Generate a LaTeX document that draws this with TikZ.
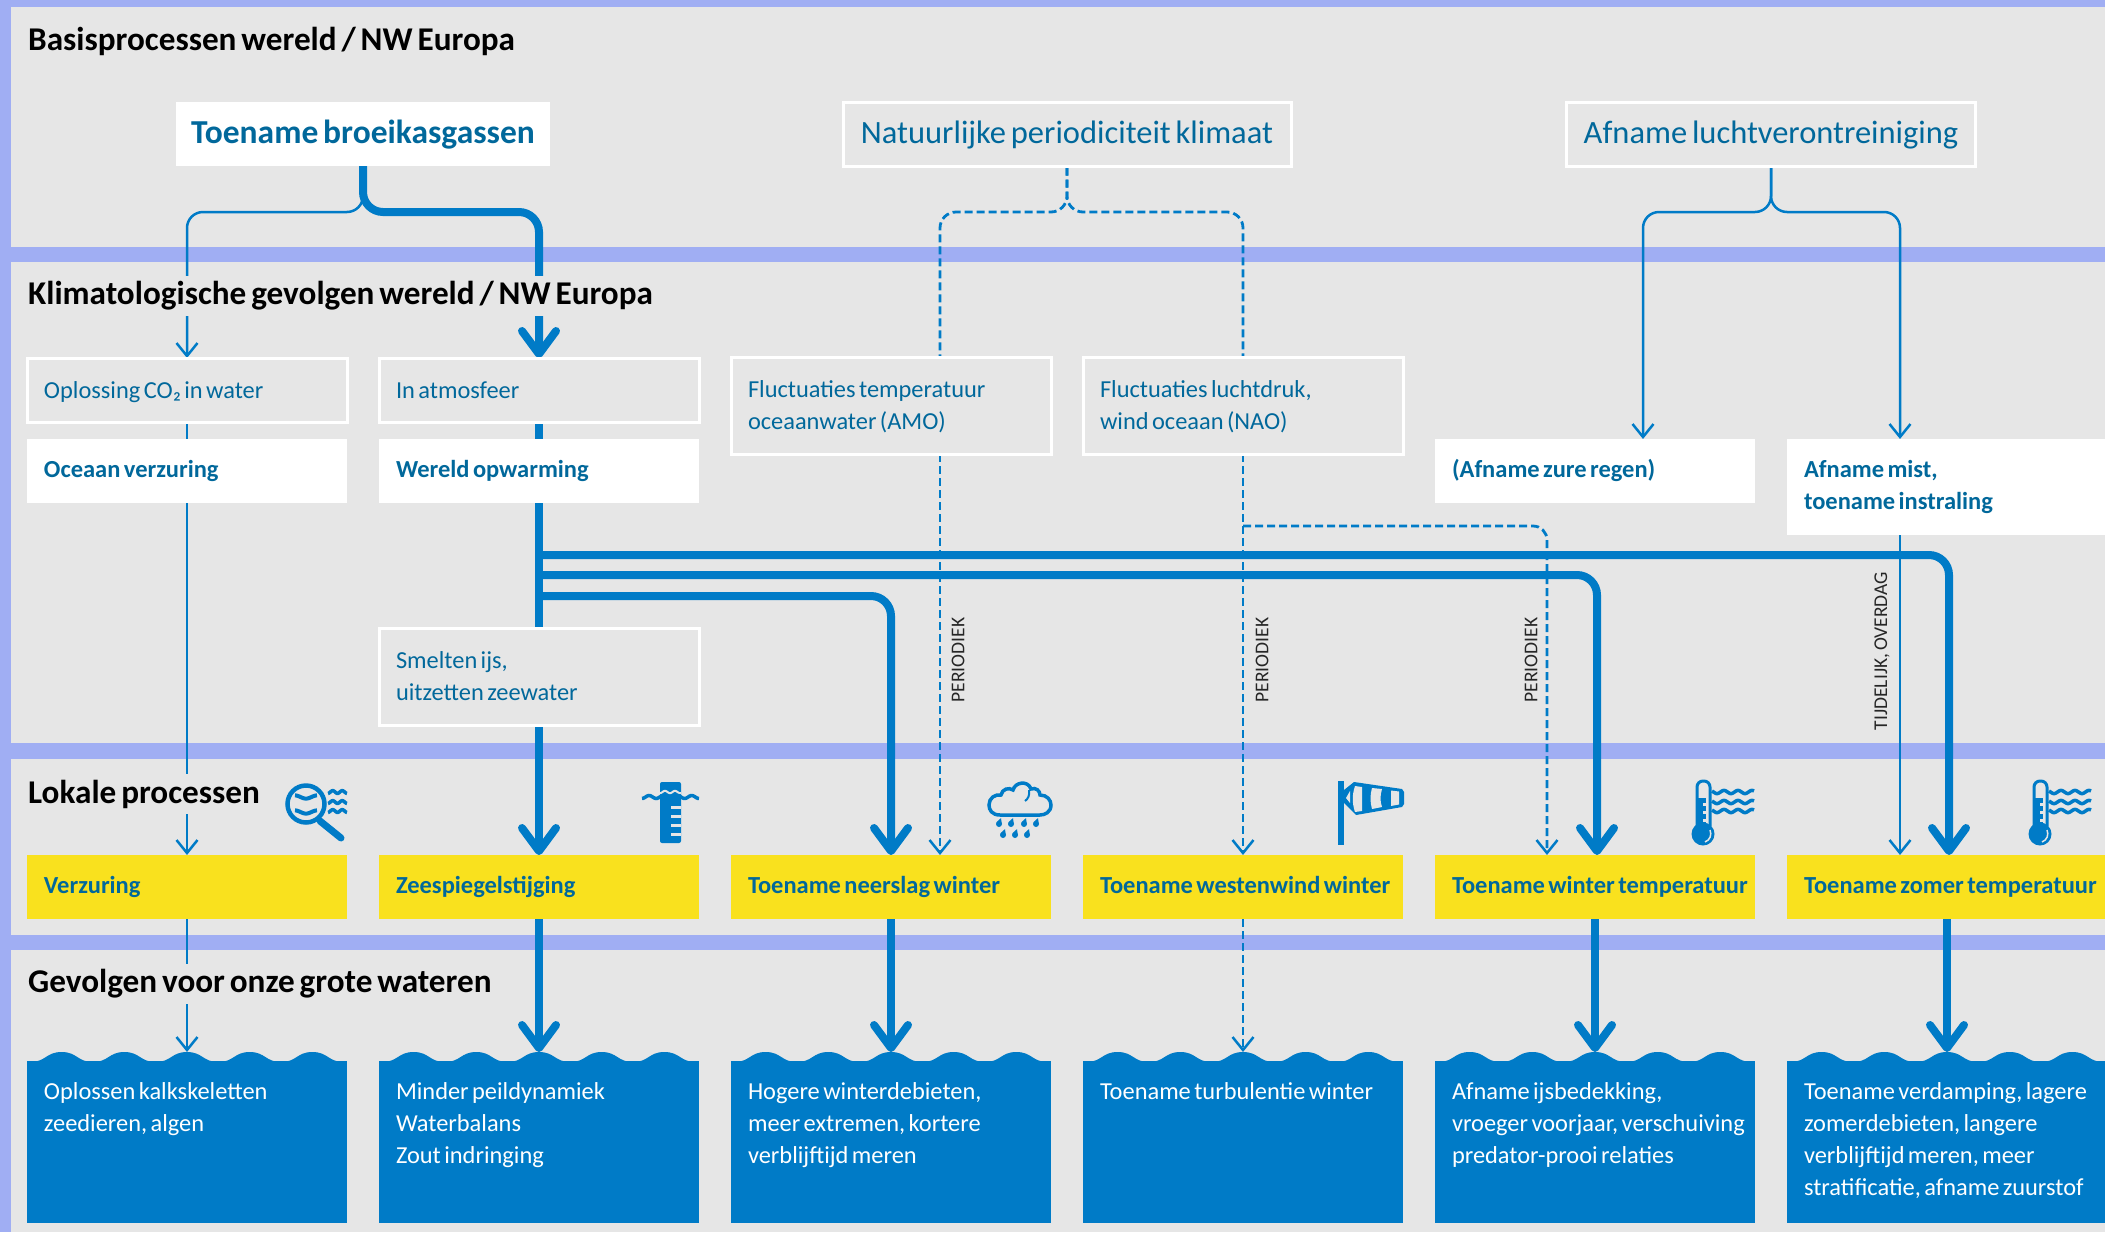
\documentclass[tikz,border=0pt]{standalone}
\usepackage{fontspec}
\setmainfont[WordSpace=0.65]{Carlito}
\usetikzlibrary{arrows.meta}
\usetikzlibrary{positioning}
\usetikzlibrary{calc}
\definecolor{achtergrond}{HTML}{E6E6E6}
\definecolor{band}{HTML}{A0AEF3}
\definecolor{hemel}{HTML}{007BC7}
\definecolor{lint}{HTML}{01689B}
\definecolor{geel}{HTML}{F9E11E}
\pgfdeclarelayer{vlakken}
\pgfdeclarelayer{lijnen}
\pgfsetlayers{vlakken,lijnen,main}
\tikzset{
    thermogolf/.pic = {
        \draw[line width=3pt, color=hemel, rounded corners=6pt] (-6,45) -- (-6,0) -- (7,0) -- (7,45);
        \fill[hemel] (-5,17) rectangle (3,45);
        \foreach \t in {22,30,38} \fill[achtergrond] (0,\t) rectangle (3,\t+2.5);
        \fill[hemel] (0,53) circle (11.5pt);
        \draw[achtergrond, line width=1.5pt] (7,49) .. controls (9,54) and (7,59) .. (2,61);
        \foreach \g in {11,21,30}
            \draw[golflijn] plot[domain=9:51, samples=40, smooth] ({\x}, {\g+1.6*cos(\x/14*360)});
    }
}
\newcommand{\onderkop}[1]{\fontsize{#1}{32}\selectfont}
\begin{document}
\begin{tikzpicture}[
        x = 1pt, y = -1pt,
        kop/.style = {inner sep=0pt, anchor=west, minimum height=40pt, fill=achtergrond, text=black,
                      font=\fontsize{33.2}{36}\selectfont\bfseries},
        hoofdwit/.style = {rectangle, fill=white, text=lint, inner sep=0pt, minimum height=64pt, text height=26pt, text depth=6.8pt,
                      font=\fontsize{33.5}{36}\selectfont\bfseries},
        hoofdrand/.style = {hoofdwit, fill=achtergrond, draw=white, line width=3pt, font=\fontsize{32.5}{36}\selectfont},
        vak/.style = {rectangle, text width=320pt, inner xsep=0pt, inner ysep=0pt, outer sep=0pt,
                      minimum height=64pt,
                      execute at begin node={\leftskip=17pt\rightskip=0pt plus 1fil\spaceskip=.14em\parindent=0pt\strut},
                      execute at end node={\strut}},
        randvak/.style = {vak, fill=achtergrond, draw=white, line width=3pt, text=lint, font=\onderkop{24.4},
                      execute at begin node={\rule{0pt}{26pt}}},
        witvak/.style = {vak, fill=white, text=lint, font=\onderkop{24.5}\bfseries},
        geelvak/.style = {vak, fill=geel, text=lint, font=\onderkop{24.5}\bfseries},
        watervak/.style = {rectangle, fill=hemel, text=white, text width=320pt, inner xsep=0pt, inner ysep=0pt,
                      outer sep=0pt, text height=38pt, text depth=124pt, font=\onderkop{24.4},
                      execute at begin node={\leftskip=17pt\rightskip=0pt plus 1fil\spaceskip=.14em\parindent=0pt}},
        notitie/.style = {rotate=90, inner sep=0pt, text=black!85, font=\fontsize{19.5}{20}\selectfont},
        dun/.style = {draw=hemel, line width=2.5pt},
        dik/.style = {draw=hemel, line width=8pt},
        stippel/.style = {draw=hemel, line width=2.8pt, dash pattern=on 8pt off 4pt},
        dunpijl/.style = {-{Straight Barb[length=13pt,width=21pt,line width=2.5pt]}},
        dikpijl/.style = {-{Straight Barb[length=23pt,width=34pt,line width=8pt,round]}},
        stippelpijl/.style = {-{Straight Barb[length=13pt,width=21pt,line width=2.5pt]}},
        golflijn/.style = {draw=hemel, line width=3.5pt},
        ]
    % vlakken
    \begin{pgfonlayer}{vlakken}
        \fill[band] (0,0) rectangle (2105,1232);
        \fill[achtergrond] (11,7) rectangle (2105,247);
        \fill[achtergrond] (11,262) rectangle (2105,743);
        \fill[achtergrond] (11,759) rectangle (2105,935);
        \fill[achtergrond] (11,950) rectangle (2105,1232);
    \end{pgfonlayer}
    \path[use as bounding box] (0,0) rectangle (2105,1232);

    % koppen
    \node[kop] (basis) at (28,41) {Basisprocessen wereld / NW Europa};
    \node[kop] (klimaat) at (28,296) {Klimatologische gevolgen wereld / NW Europa};
    \node[kop] (lokaal) at (28,794) {Lokale processen};
    \node[kop] (gevolgen) at (28,984) {Gevolgen voor onze grote wateren};

    % bovenste rij
    \node[hoofdwit, minimum width=374pt] (broeikas) at (363,134) {Toename broeikasgassen};
    \node[hoofdrand, minimum width=448pt] (periodiek) at (1067,134) {Natuurlijke periodiciteit klimaat};
    \node[hoofdrand, minimum width=409pt] (lucht) at (1771,134) {Afname luchtverontreiniging};

    % tweede rij
    \node[randvak] (oplossing) at (187,390) {Oplossing CO₂ in water};
    \node[randvak, right=32pt of oplossing] (atmosfeer) {In atmosfeer};
    \node[randvak, minimum height=97pt, anchor=north west] (fluctemp) at (731,357) {Fluctuaties temperatuur\\oceaanwater (AMO)};
    \node[randvak, minimum height=97pt, right=32pt of fluctemp] (flucdruk) {Fluctuaties luchtdruk,\\wind oceaan (NAO)};

    % derde rij
    \node[witvak] (oceaan) at (187,471) {Oceaan verzuring};
    \node[witvak, right=32pt of oceaan] (wereld) {Wereld opwarming};
    \node[witvak] (zureregen) at (1595,471) {(Afname zure regen)};
    \node[witvak, minimum height=96pt, anchor=north west] (mist) at (1787,439) {Afname mist,\\toename instraling};
    \node[randvak, minimum height=97pt] (smelten) at (539,676.5) {Smelten ijs,\\uitzetten zeewater};

    % gele rij
    \node[geelvak] (verzuring) at (187,887) {Verzuring};
    \node[geelvak, right=32pt of verzuring] (zeespiegel) {Zeespiegelstijging};
    \node[geelvak, right=32pt of zeespiegel] (neerslag) {Toename neerslag winter};
    \node[geelvak, right=32pt of neerslag] (westenwind) {Toename westenwind winter};
    \node[geelvak, right=32pt of westenwind] (wintertemp) {Toename winter temperatuur};
    \node[geelvak, right=32pt of wintertemp] (zomertemp) {Toename zomer temperatuur};

    % waterrij
    \node[watervak, anchor=north west] (kalk) at (27,1061) {Oplossen kalkskeletten\\zeedieren, algen};
    \node[watervak, right=32pt of kalk] (peil) {Minder peildynamiek\\Waterbalans\\Zout indringing};
    \node[watervak, right=32pt of peil] (debiet) {Hogere winterdebieten,\\meer extremen, kortere\\verblijftijd meren};
    \node[watervak, right=32pt of debiet] (turbulentie) {Toename turbulentie winter};
    \node[watervak, right=32pt of turbulentie] (ijs) {Afname ijsbedekking,\\vroeger voorjaar, verschuiving\\predator-prooi relaties};
    \node[watervak, right=32pt of ijs] (verdamping) {Toename verdamping, lagere\\zomerdebieten, langere\\verblijftijd meren, meer\\stratificatie, afname zuurstof};
    \foreach \w in {kalk,peil,debiet,turbulentie,ijs,verdamping}
        \foreach \n in {-2,...,2}
            \fill[hemel, shift={($(\w.north)+(\n*62.7,0)$)}] (-31.35,1) .. controls (-15.7,1) and (-15.7,-9) .. (0,-9)
                .. controls (15.7,-9) and (15.7,1) .. (31.35,1) -- cycle;

    % labels bij de lijnen
    \node[notitie] (periodiek1) at (958,660) {PERIODIEK};
    \node[notitie] (periodiek2) at (1262,660) {PERIODIEK};
    \node[notitie] (periodiek3) at (1531,660) {PERIODIEK};
    \node[notitie] (tijdelijk) at (1882,651) {TIJDELIJK, OVERDAG};

    \coordinate (tak) at (0,212);
    \coordinate (tak1) at (0,596);
    \coordinate (tak2) at (0,575);
    \coordinate (tak3) at (0,555);
    \coordinate (wintertop) at (1597,855);
    \coordinate (zomertop) at (1949,855);
    \coordinate (amotop) at (940,357);
    \coordinate (amoonder) at (940,454);
    \coordinate (amopijl) at (940,855);
    \coordinate (natak) at (1243,526);
    \coordinate (naopijl) at (1547,855);
    \coordinate (zuurtop) at (1643,439);
    \coordinate (misttop) at (1900,439);
    \coordinate (mistonder) at (1900,535);
    \coordinate (mistpijl) at (1900,855);

    % verbindingen
    \begin{pgfonlayer}{lijnen}
        \draw[dun, dunpijl, rounded corners=16pt] (broeikas.south) -- (broeikas.south |- tak) -- (tak -| oplossing) -- (oplossing.north);
        \draw[dik, dikpijl, rounded corners=20pt] (broeikas.south) -- (broeikas.south |- tak) -- (tak -| atmosfeer) -- (atmosfeer.north);
        \draw[dun] (oplossing) -- (oceaan);
        \draw[dik] (atmosfeer) -- (wereld);
        \draw[dun, dunpijl] (oceaan.south) -- (verzuring.north);
        \draw[dun, dunpijl] (verzuring.south) -- (kalk.north |- 0,1052);
        \draw[dik] (wereld.south) -- (smelten.north);
        \draw[dik, dikpijl] (smelten.south) -- (zeespiegel.north);
        \draw[dik, dikpijl] (zeespiegel.south) -- (peil.north |- 0,1052);
        \draw[dik, dikpijl, rounded corners=20pt] (tak1 -| wereld) -- (tak1 -| neerslag) -- (neerslag.north);
        \draw[dik, dikpijl, rounded corners=20pt] (tak2 -| wereld) -- (tak2 -| wintertop) -- (wintertop);
        \draw[dik, dikpijl, rounded corners=20pt] (tak3 -| wereld) -- (tak3 -| zomertop) -- (zomertop);
        \draw[dik, dikpijl] (neerslag.south) -- (debiet.north |- 0,1052);
        \draw[dik, dikpijl] (wintertemp.south) -- (ijs.north |- 0,1052);
        \draw[dik, dikpijl] (zomertemp.south) -- (verdamping.north |- 0,1052);
        % periodiek
        \draw[stippel, rounded corners=16pt] (periodiek.south) -- (periodiek.south |- tak) -- (tak -| amotop) -- (amotop);
        \draw[stippel, rounded corners=16pt] (periodiek.south) -- (periodiek.south |- tak) -- (tak -| flucdruk) -- (flucdruk.north);
        \draw[stippel, stippelpijl] (amoonder) -- (amopijl);
        \draw[stippel, stippelpijl] (flucdruk.south) -- (westenwind.north);
        \draw[stippel, stippelpijl] (westenwind.south) -- (turbulentie.north |- 0,1052);
        \draw[stippel, stippelpijl, rounded corners=14pt] (natak) -- (naopijl |- natak) -- (naopijl);
        % lucht
        \draw[dun, dunpijl, rounded corners=16pt] (lucht.south) -- (lucht.south |- tak) -- (tak -| zuurtop) -- (zuurtop);
        \draw[dun, dunpijl, rounded corners=16pt] (lucht.south) -- (lucht.south |- tak) -- (tak -| misttop) -- (misttop);
        \draw[dun, dunpijl] (mistonder) -- (mistpijl);
    \end{pgfonlayer}

    % pictogrammen
    % vergrootglas
    \draw[hemel, line width=4.5pt] (306,804) circle (18.5pt);
    \draw[hemel, line width=7pt, line cap=round] (320,821) -- (341,838);
    \foreach \g in {797,812}
        \draw[hemel, line width=4pt] plot[domain=295:317, samples=20, smooth] ({\x}, {\g+1.6*cos((\x-306)/22*360)});
    \foreach \g in {792,802,811}
        \draw[golflijn] plot[domain=328:347, samples=20, smooth] ({\x}, {\g+1.4*cos((\x-328)/9.5*360)});
    % peilschaal
    \fill[hemel, rounded corners=2pt] (660,782) rectangle (681,843);
    \draw[achtergrond, line width=2pt] plot[domain=660:681, samples=20, smooth] ({\x}, {792+1.2*cos((\x-660)/10*360)});
    \draw[hemel, line width=3.5pt] plot[domain=642:699, samples=50, smooth] ({\x}, {797+1.5*cos((\x-642)/14.2*360)});
    \foreach \t in {806,815,824,833}
        \fill[achtergrond] (671,\t) rectangle (681,\t+3);
    % regenwolk
    \draw[hemel, line width=3.5pt] (1000,815) .. controls (992,815) and (989,810) .. (989,805)
        .. controls (989,798) and (995,794) .. (1001,795) .. controls (1002,789) and (1009,787) .. (1013,790)
        .. controls (1015,782) and (1028,780) .. (1031,789) .. controls (1036,787) and (1040,791) .. (1040,795)
        .. controls (1047,795) and (1051,800) .. (1051,805) .. controls (1051,812) and (1045,815) .. (1040,815) -- cycle;
    \draw[hemel, line width=2pt] (1029,790) .. controls (1030,795) and (1028,799) .. (1025,801);
    \foreach \d/\h in {999/824,1011/824,1024/824,1036/824,1003/835,1015/835,1027/835} {
        \fill[hemel] (\d,\h) circle (3pt);
        \fill[hemel] (\d-2.6,\h-1.5) -- (\d+2,\h-6) -- (\d+2.8,\h) -- cycle;
    }
    % windzak
    \fill[hemel] (1338,781) rectangle (1344,845);
    \fill[hemel] (1344,790) -- (1354,782) -- (1402,789) -- (1404,792) -- (1404,804) -- (1402,807) -- (1356,815) -- (1344,803) -- cycle;
    \fill[achtergrond] (1346,798) -- (1350,791) -- (1350,803) -- cycle;
    \fill[achtergrond] (1355,786) -- (1362,787) -- (1362,811) -- (1355,812) .. controls (1352,803) and (1352,795) .. (1355,786) -- cycle;
    \fill[achtergrond] (1372,788) -- (1382,789) .. controls (1380,796) and (1380,801) .. (1382,807) -- (1372,809) .. controls (1370,802) and (1370,795) .. (1372,788) -- cycle;
    \fill[achtergrond] (1391,790.5) -- (1399,791.5) -- (1399,804.5) -- (1391,806) -- cycle;
    % thermometers
    \pic at (1703,781) {thermogolf};
    \pic at (2040,781) {thermogolf};
\end{tikzpicture}
\end{document}
